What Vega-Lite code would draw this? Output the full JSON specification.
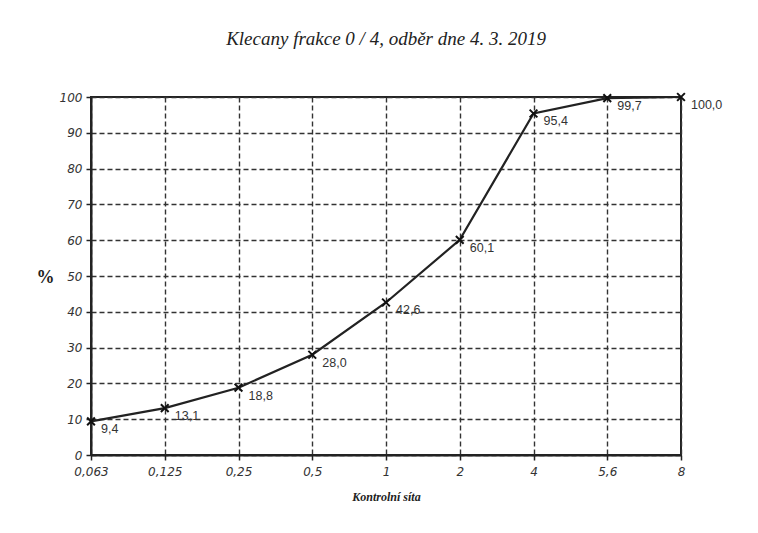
{
  "$schema": "https://vega.github.io/schema/vega-lite/v6.json",
  "autosize": {"type": "none"},
  "padding": {"left": 91, "top": 97, "right": 77, "bottom": 78},
  "width": 590,
  "height": 358,
  "background": "white",
  "config": {
    "locale": {"number": {"decimal": ",", "thousands": " ", "grouping": [3], "currency": ["", " Kč"]}},
    "view": {"stroke": "#222", "strokeWidth": 2},
    "axis": {
      "grid": true,
      "gridColor": "#333",
      "gridDash": [5, 3],
      "gridWidth": 1.4,
      "gridOpacity": 1,
      "domainColor": "#222",
      "domainWidth": 2,
      "tickColor": "#222",
      "tickSize": 5,
      "tickWidth": 1.5,
      "labelFont": "DejaVu Sans",
      "labelFontStyle": "italic",
      "labelFontSize": 12,
      "labelColor": "#333"
    }
  },
  "title": {
    "text": "Klecany  frakce 0 / 4, odběr dne  4. 3. 2019",
    "font": "Liberation Serif",
    "fontStyle": "italic",
    "fontWeight": "normal",
    "fontSize": 19,
    "color": "#222",
    "anchor": "middle",
    "offset": 40
  },
  "data": {
    "values": [
      {"sito": "0,063", "procento": 9.4},
      {"sito": "0,125", "procento": 13.1},
      {"sito": "0,25", "procento": 18.8},
      {"sito": "0,5", "procento": 28.0},
      {"sito": "1", "procento": 42.6},
      {"sito": "2", "procento": 60.1},
      {"sito": "4", "procento": 95.4},
      {"sito": "5,6", "procento": 99.7},
      {"sito": "8", "procento": 100.0}
    ]
  },
  "encoding": {
    "x": {
      "field": "sito",
      "type": "ordinal",
      "sort": null,
      "scale": {"type": "point", "padding": 0},
      "axis": {
        "labelAngle": 0,
        "labelPadding": 6,
        "title": "Kontrolní síta",
        "titleFont": "Liberation Serif",
        "titleFontStyle": "italic",
        "titleFontWeight": "bold",
        "titleFontSize": 12,
        "titleColor": "#222",
        "titlePadding": 14
      }
    },
    "y": {
      "field": "procento",
      "type": "quantitative",
      "scale": {"domain": [0, 100], "nice": false},
      "axis": {
        "values": [0, 10, 20, 30, 40, 50, 60, 70, 80, 90, 100],
        "labelPadding": 4,
        "title": "%",
        "titleAngle": 0,
        "titleX": -46,
        "titleY": 180,
        "titleAlign": "center",
        "titleBaseline": "middle",
        "titleFont": "Liberation Serif",
        "titleFontWeight": "bold",
        "titleFontSize": 18,
        "titleColor": "#222"
      }
    }
  },
  "layer": [
    {"mark": {"type": "line", "color": "#222", "strokeWidth": 2.2}},
    {
      "mark": {
        "type": "point",
        "shape": "M-1,-1L1,1M1,-1L-1,1",
        "size": 60,
        "stroke": "#111",
        "strokeWidth": 2,
        "filled": false,
        "opacity": 1
      }
    },
    {
      "mark": {
        "type": "text",
        "align": "left",
        "baseline": "middle",
        "dx": 10,
        "dy": 8,
        "font": "Liberation Sans",
        "fontSize": 12.5,
        "color": "#333"
      },
      "encoding": {
        "text": {"field": "procento", "type": "quantitative", "format": ".1f"}
      }
    }
  ]
}
